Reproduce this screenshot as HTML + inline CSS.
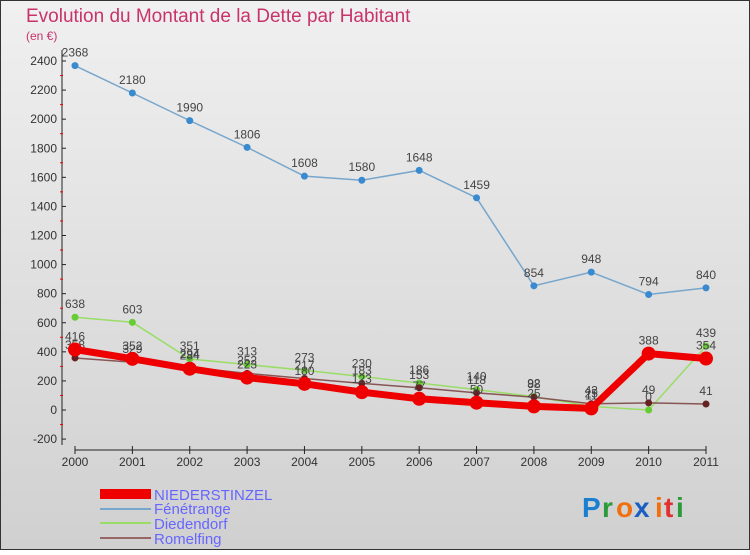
<!DOCTYPE html>
<html><head><meta charset="utf-8"><style>
body{margin:0;width:750px;height:550px;overflow:hidden;font-family:"Liberation Sans",sans-serif}
</style></head><body>
<svg id="c" width="750" height="550" xmlns="http://www.w3.org/2000/svg">
<defs><linearGradient id="bg" x1="0" y1="0" x2="0" y2="1"><stop offset="0" stop-color="#f0f0f0"/><stop offset="1" stop-color="#d0d0d0"/></linearGradient></defs>
<rect x="0.5" y="0.5" width="749" height="549" fill="url(#bg)" stroke="#333"/>
<text x="26" y="22" font-size="19" fill="#c8336a">Evolution du Montant de la Dette par Habitant</text>
<text x="26" y="40" font-size="12" fill="#c8336a">(en €)</text>
<g id="plot"></g>
<g>
<rect x="100" y="489" width="51" height="10" fill="#e00"/>
<text x="154" y="500" font-size="15" fill="#6666ff">NIEDERSTINZEL</text>
<rect x="100" y="508" width="51" height="2" fill="#77a6cc"/>
<text x="154" y="514" font-size="15" fill="#6666ff">Fénétrange</text>
<rect x="100" y="522" width="51" height="2" fill="#99dd66"/>
<text x="154" y="529" font-size="15" fill="#6666ff">Diedendorf</text>
<rect x="100" y="537" width="51" height="2" fill="#996666"/>
<text x="154" y="544" font-size="15" fill="#6666ff">Romelfing</text>
</g>
<g font-size="28" font-weight="bold">
<text x="582" y="517" fill="#1a7fd0">P</text><text x="602" y="517" fill="#2a9a3a">r</text><text x="616" y="517" fill="#f07010">o</text><text x="634" y="517" fill="#1a5fc0">x</text><text x="655" y="517" fill="#f07010">i</text><text x="664" y="517" fill="#e03030">t</text><text x="676" y="517" fill="#2a9a3a">i</text>
</g>
</svg>
<script>
const years=["2000","2001","2002","2003","2004","2005","2006","2007","2008","2009","2010","2011"];
const niederstinzel=[416,352,284,223,180,123,77,50,25,11,388,354];
const fenetrange=[2368,2180,1990,1806,1608,1580,1648,1459,854,948,794,840];
const diedendorf=[638,603,351,313,273,230,186,140,92,25,0,439];
const romelfing=[358,329,294,252,217,183,153,118,88,43,49,41];
const yTicks=[-200,0,200,400,600,800,1000,1200,1400,1600,1800,2000,2200,2400];
const NS="http://www.w3.org/2000/svg";
const g=document.getElementById('plot');
const x=i=>75+i*(706-75)/(years.length-1);
const y=v=>410-v*(349/2400);
function el(t,a){const e=document.createElementNS(NS,t);for(const k in a)e.setAttribute(k,a[k]);g.appendChild(e);return e;}
let ax=el('line',{x1:62,y1:50,x2:62,y2:445,stroke:'#222'});


let xa=el('line',{x1:75,y1:450,x2:706,y2:450,stroke:'#222'});


yTicks.forEach((v,i)=>{
 const t=el('text',{x:57,y:y(v)+4,'font-size':12,fill:'#333','text-anchor':'end'});t.textContent=v;
 
 
 el('line',{x1:62,y1:y(v),x2:66,y2:y(v),stroke:'#222'});
 if(i<yTicks.length-1)el('line',{x1:60,y1:y(v+100),x2:63,y2:y(v+100),stroke:'#e00'});
});
years.forEach((yr,i)=>{
 el('line',{x1:x(i),y1:446,x2:x(i),y2:454,stroke:'#222'});
 const t=el('text',{x:x(i),y:466,'font-size':12,fill:'#333','text-anchor':'middle'});t.textContent=yr;
 
 
});
function series(data,color,w,r,name,pc){
 const p=el('polyline',{points:data.map((v,i)=>x(i)+','+y(v)).join(' '),fill:'none',stroke:color,'stroke-width':w,'stroke-linejoin':'round'});
 
 
 data.forEach((v,i)=>{
  const c=el('circle',{cx:x(i),cy:y(v),r:r,fill:pc});
  
  
  const t=el('text',{x:x(i),y:y(v)-9,'font-size':12,fill:'#444','text-anchor':'middle'});t.textContent=v;
  
  
 });
}
series(fenetrange,'#77a6cc',1.5,3.5,'fenetrange','#3a8ad0');
series(diedendorf,'#99dd66',1.5,3.5,'diedendorf','#66cc33');
series(romelfing,'#885555',1.5,3.5,'romelfing','#662222');
series(niederstinzel,'#ee0000',7,7,'niederstinzel','#ee0000');
</script>
</body></html>
